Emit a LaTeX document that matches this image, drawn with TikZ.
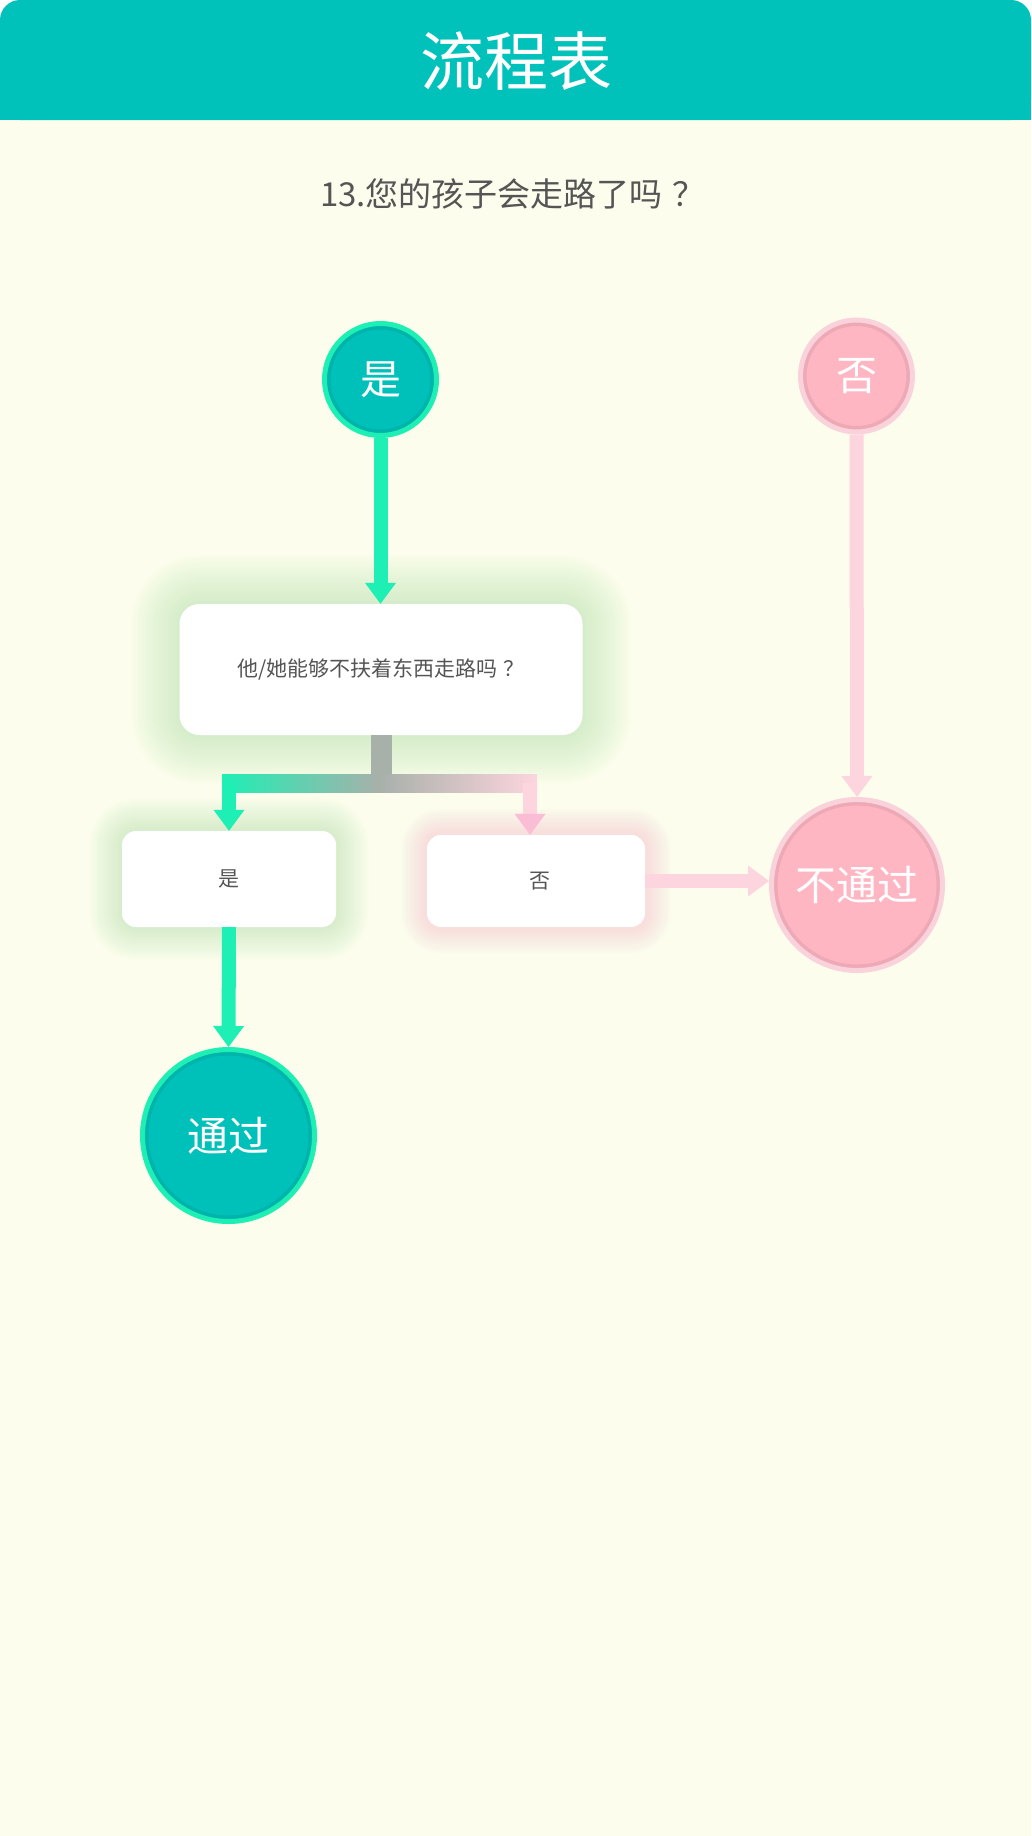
\documentclass[tikz,border=0pt]{standalone}
\usepackage{fontspec}
\newfontfamily\cjk{Noto Sans CJK SC}
\usetikzlibrary{arrows.meta,calc,backgrounds}

\definecolor{headteal}{HTML}{00C2BB}
\definecolor{paper}{HTML}{FCFDEC}
\definecolor{mint}{HTML}{1DEFB5}
\definecolor{tealfill}{HTML}{00C1B9}
\definecolor{rosefill}{HTML}{FFB6C3}
\definecolor{roseedge}{HTML}{FAD2DB}
\definecolor{roseline}{HTML}{FDD5DF}
\definecolor{rosetip}{HTML}{FBBDD5}
\definecolor{stubgray}{HTML}{A8B0AA}
\definecolor{inkgray}{HTML}{555555}
\definecolor{glowgreen}{HTML}{BDEBB6}
\definecolor{glowrose}{HTML}{F8C8D3}

\tikzset{
  endpoint/.style={circle, line width=5pt, text=white, inner sep=0pt,
    font=\cjk\fontsize{41}{41}\selectfont,
    path picture={\draw[black, opacity=.07, line width=12pt]
      let \p1=($(path picture bounding box.east)-(path picture bounding box.center)$)
      in (path picture bounding box.center) circle [radius=\x1];}},
  yesdot/.style={endpoint, fill=tealfill, draw=mint},
  nodot/.style={endpoint, fill=rosefill, draw=roseedge},
  card/.style={rectangle, fill=white, rounded corners=14pt, inner sep=0pt,
    font=\cjk\fontsize{21}{21}\selectfont, text=inkgray},
  tip/.style={-{Triangle[width=31pt,length=21pt,line width=0pt,#1]}},
  yesline/.style={draw=mint, line width=14pt, tip={}},
  noline/.style={draw=roseline, line width=14pt, tip={}},
}

\begin{document}
\begin{tikzpicture}[x=1pt,y=-1pt]
  \useasboundingbox (0,0) rectangle (1031,1836);

  % header
  \fill[headteal, rounded corners=20] (0,0) rectangle (1031,120);
  \fill[headteal] (0,60) rectangle (1031,120);
  \node[font=\cjk\fontsize{64}{64}\selectfont, text=white] (title) at (516,61) {流程表};
  \node[font=\cjk\fontsize{33}{33}\selectfont, text=inkgray] (quiz) at (513,194) {13.您的孩子会走路了吗\hspace{0.3em}？};

  % nodes
  \node[yesdot, minimum size=112pt] (yesTop) at (380.5,379.5) {是};
  \node[nodot, minimum size=112pt] (noTop) at (856.5,376) {否};
  \node[card, minimum width=403pt, minimum height=131pt, rounded corners=20pt] (question) at (381,669.5) {他/她能够不扶着东西走路吗\hspace{0.3em}？};
  \node[card, minimum width=214pt, minimum height=96pt] (yesBox) at (229,879) {是};
  \node[card, minimum width=218pt, minimum height=92pt] (noBox) at (536,881) {\hspace{8pt}否};
  \node[yesdot, minimum size=172pt] (pass) at (228.5,1135.5) {通过};
  \node[nodot, minimum size=171pt] (fail) at (857,885) {不通过};

  % glow and page
  \begin{scope}[on background layer]
    \fill[white] (0,0) rectangle (1031,1836);
    \fill[paper] (0,100) rectangle (1031,1836);
    \foreach \g in {1,...,16} {
      \fill[glowgreen, opacity=0.045, rounded corners={20+3*\g}]
        ($(question.south west)+(-3*\g,3*\g)$) rectangle ($(question.north east)+(3*\g,-3*\g)$);
      \fill[glowgreen, opacity=0.04, rounded corners={14+2*\g}]
        ($(yesBox.south west)+(-2*\g,2*\g)$) rectangle ($(yesBox.north east)+(2*\g,-2*\g)$);
      \fill[glowrose, opacity=0.04, rounded corners={14+1.6*\g}]
        ($(noBox.south west)+(-1.6*\g,1.6*\g)$) rectangle ($(noBox.north east)+(1.6*\g,-1.6*\g)$);
    }
  \end{scope}

  % connectors
  \coordinate (barY) at (0,783);
  \coordinate (lft) at (yesBox.north |- barY);
  \coordinate (rgt) at ($(noBox.north |- barY)+(-6,0)$);
  \draw[yesline] (yesTop.south) -- (yesTop.south |- question.north);
  \draw[stubgray, line width=21pt] (question.south) -- (question.south |- barY);
  \shade[left color=mint, right color=roseline, middle color=stubgray]
    ($(lft)+(-7,-9)$) rectangle ($(rgt)+(7,9)$);
  \draw[yesline] (lft) -- (yesBox.north);
  \draw[noline, tip={color=rosetip}] (rgt) -- (rgt |- noBox.north);
  \draw[yesline] (yesBox.south) -- (pass.north);
  \draw[noline] (noTop.south) -- (fail.north);
  \draw[noline] (noBox.east) -- (noBox.east -| fail.west);
\end{tikzpicture}
\end{document}
